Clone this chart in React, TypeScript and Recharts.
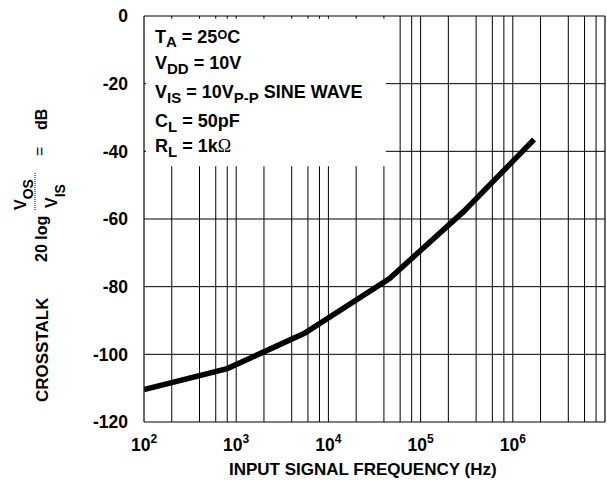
import React from 'react'
import { LineChart, Line, XAxis, YAxis, ReferenceLine } from 'recharts'

// curve
const freqHz = [100, 800, 5500, 46000, 290000, 1700000]
const crosstalkDb = [-110.4, -104.2, -93.8, -77.6, -57.9, -36.5]

const decadeTicks = [100, 1e3, 1e4, 1e5, 1e6]
const dbTicks = [0, -20, -40, -60, -80, -100, -120]
const gridFreqs = [
  200, 400, 600, 800, 1e3,
  2e3, 4e3, 6e3, 8e3, 1e4,
  2e4, 4e4, 6e4, 8e4, 1e5,
  2e5, 4e5, 6e5, 8e5, 1e6,
  2e6, 4e6, 6e6, 8e6,
]
const gridDb = [-20, -40, -60, -80, -100]

// corner of the white box that holds the test conditions
const boxFreq = 42000
const boxDb = -44.4

const data = freqHz.map((f, i) => ({ f, db: crosstalkDb[i] }))

const FONT = '"Liberation Sans", Arial, Helvetica, sans-serif'
const INK = '#000'

function FreqTick(props: any) {
  const { x, y, payload } = props
  const exp = Math.round(Math.log10(payload.value))
  return (
    <text x={x} y={y + 29} textAnchor="middle" fontFamily={FONT} fontWeight="bold" fontSize={17.5} fill={INK}>
      <tspan>10</tspan>
      <tspan fontSize={12} dy={-8}>{exp}</tspan>
    </text>
  )
}

function Notes() {
  const t = { fontFamily: FONT, fontWeight: 'bold' as const, fontSize: 18, fill: INK }
  return (
    <g>
      <text x={155} y={43.3} {...t}>
        T<tspan fontSize={15} dy={4}>A</tspan>
        <tspan dy={-4}> = 25</tspan>
        <tspan fontSize={12.5} dy={-4.3}>O</tspan>
        <tspan dy={4.3}>C</tspan>
      </text>
      <text x={155} y={69} {...t}>
        V<tspan fontSize={15} dy={5}>DD</tspan>
        <tspan dy={-5}> = 10V</tspan>
      </text>
      <text x={155} y={98.3} {...t}>
        V<tspan fontSize={15} dy={5}>IS</tspan>
        <tspan dy={-5}> = 10V</tspan>
        <tspan fontSize={15} dy={5}>P-P</tspan>
        <tspan dy={-5}> SINE WAVE</tspan>
      </text>
      <text x={155} y={126.7} {...t}>
        C<tspan fontSize={15} dy={5}>L</tspan>
        <tspan dy={-5}> = 50pF</tspan>
      </text>
      <text x={155} y={151.7} {...t}>
        R<tspan fontSize={15} dy={5}>L</tspan>
        <tspan dy={-5}> = 1k</tspan>
        <tspan fontFamily='"Liberation Serif", "DejaVu Serif", serif' fontWeight="normal">Ω</tspan>
      </text>
    </g>
  )
}

function YTitle() {
  const b = { fontFamily: FONT, fontWeight: 'bold' as const, fill: INK }
  return (
    <g transform="translate(0,402) rotate(-90)">
      <text x={0} y={48} fontSize={17} {...b}>CROSSTALK</text>
      <text x={140} y={47} fontSize={16} {...b}>20 log</text>
      <text x={192} y={26} fontSize={16} {...b}>
        V<tspan fontSize={14} dy={7}>OS</tspan>
      </text>
      <line x1={192} x2={230} y1={35} y2={35} stroke={INK} strokeWidth={1} strokeDasharray="1 1" />
      <text x={194} y={57} fontSize={16} {...b}>
        V<tspan fontSize={14} dy={8}>IS</tspan>
      </text>
      <text x={246} y={45} fontSize={16} fontFamily={FONT} fill={INK}>=</text>
      <text x={272} y={47} fontSize={16} {...b}>dB</text>
    </g>
  )
}

function XTitle() {
  return (
    <text x={229} y={475} fontFamily={FONT} fontWeight="bold" fontSize={17} fill={INK}>
      INPUT SIGNAL FREQUENCY (Hz)
    </text>
  )
}

export default function App() {
  return (
    <div style={{ width: 607, height: 486 }}>
      <style>{'body{margin:0;overflow:hidden;background:#fff}'}</style>
      <LineChart width={607} height={486} data={data} margin={{ top: 16, right: 2, left: 0, bottom: 0 }}>
        <XAxis
          dataKey="f"
          type="number"
          scale="log"
          domain={[100, 1e7]}
          ticks={decadeTicks}
          allowDataOverflow
          height={64}
          tickLine={false}
          tickSize={0}
          tickMargin={0}
          tick={<FreqTick />}
          axisLine={{ stroke: INK, strokeWidth: 1.2 }}
          label={{ content: () => <XTitle /> }}
        />
        <YAxis
          type="number"
          domain={[-120, 0]}
          ticks={dbTicks}
          allowDataOverflow
          width={144}
          tickLine={false}
          tickSize={0}
          tickMargin={16}
          tick={{ fill: INK, fontSize: 17.5, fontWeight: 'bold', fontFamily: FONT }}
          axisLine={{ stroke: INK, strokeWidth: 1.2 }}
          label={{ content: () => (<g><YTitle /><Notes /></g>) }}
        />

        {gridFreqs.map(f =>
          f < boxFreq ? (
            <React.Fragment key={'v' + f}>
              <ReferenceLine segment={[{ x: f, y: -120 }, { x: f, y: boxDb }]} stroke={INK} strokeWidth={1} />
              <ReferenceLine segment={[{ x: f, y: 0 }, { x: f, y: -0.8 }]} stroke={INK} strokeWidth={1} />
            </React.Fragment>
          ) : (
            <ReferenceLine key={'v' + f} x={f} stroke={INK} strokeWidth={1} />
          )
        )}
        {gridDb.map(d =>
          d > boxDb ? (
            <React.Fragment key={'h' + d}>
              <ReferenceLine segment={[{ x: boxFreq, y: d }, { x: 1e7, y: d }]} stroke={INK} strokeWidth={1} />
              <ReferenceLine segment={[{ x: 100, y: d }, { x: 105, y: d }]} stroke={INK} strokeWidth={1} />
            </React.Fragment>
          ) : (
            <ReferenceLine key={'h' + d} y={d} stroke={INK} strokeWidth={1} />
          )
        )}
        <ReferenceLine y={0} stroke={INK} strokeWidth={1.2} />
        <ReferenceLine x={1e7} stroke={INK} strokeWidth={1.2} />

        <Line
          dataKey="db"
          type="linear"
          stroke={INK}
          strokeWidth={5.5}
          dot={false}
          activeDot={false}
          isAnimationActive={false}
        />
      </LineChart>
    </div>
  )
}
